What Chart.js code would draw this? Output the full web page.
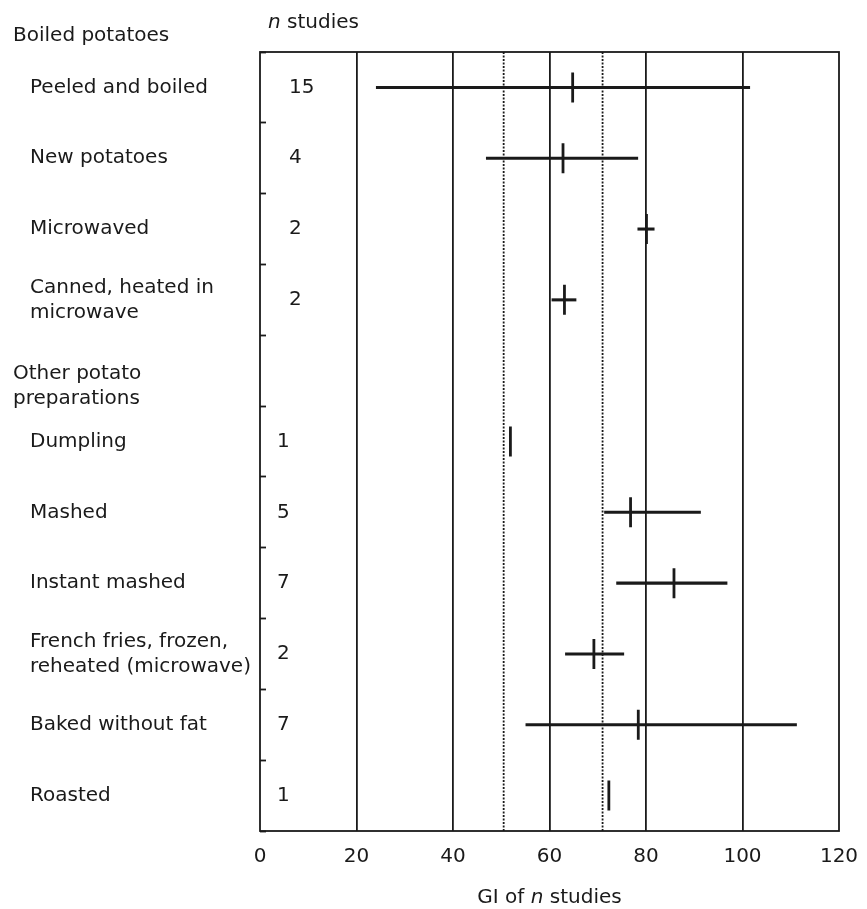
<!DOCTYPE html>
<html>
<head>
<meta charset="utf-8">
<script src="https://cdn.jsdelivr.net/npm/chart.js@4.4.1/dist/chart.umd.min.js"></script>
<style>
html, body { margin: 0; padding: 0; background: #fff; }
#wrap { width: 867px; height: 909px; }
</style>
</head>
<body>
<div id="wrap"><canvas id="grafica" width="867" height="909"></canvas></div>
<script>
// filas del grafico (de arriba hacia abajo)
const categorias = [
    'Peeled and boiled',
    'New potatoes',
    'Microwaved',
    ['Canned, heated in', 'microwave'],
    ['Other potato', 'preparations'],
    'Dumpling',
    'Mashed',
    'Instant mashed',
    ['French fries, frozen,', 'reheated (microwave)'],
    'Baked without fat',
    'Roasted'
];
const tipo_fila = ['item', 'item', 'item', 'item', 'cabecera', 'item', 'item', 'item', 'item', 'item', 'item'];
const grupo_fila = [0, 0, 0, 0, 1, 1, 1, 1, 1, 1, 1];
const cabecera_superior = 'Boiled potatoes';

const n_estudios = [15, 4, 2, 2, null, 1, 5, 7, 2, 7, 1];
const gi_media = [64.8, 62.8, 80.1, 63.1, null, 51.9, 76.8, 85.8, 69.2, 78.4, 72.3];
const gi_min = [24.1, 46.9, 78.3, 60.5, null, null, 71.4, 73.9, 63.3, 55.1, null];
const gi_max = [101.5, 78.3, 81.7, 65.5, null, null, 91.3, 96.8, 75.4, 111.2, null];

// lineas punteadas de referencia
const lineas_punteadas = [50.5, 71];

const FONT = '"DejaVu Sans", sans-serif';
const INK = '#1a1a1a';

const rangos = gi_min.map((v, i) => (v == null ? null : [v, gi_max[i]]));

function textoMixto(ctx, partes, x, y, align) {
    let total = 0;
    partes.forEach(p => {
        ctx.font = (p[1] ? 'italic ' : '') + '20px ' + FONT;
        total += ctx.measureText(p[0]).width;
    });
    let cx = align === 'center' ? x - total / 2 : x;
    ctx.textAlign = 'left';
    partes.forEach(p => {
        ctx.font = (p[1] ? 'italic ' : '') + '20px ' + FONT;
        ctx.fillText(p[0], cx, y);
        cx += ctx.measureText(p[0]).width;
    });
}

const textos = {
    id: 'textos',
    beforeDatasetsDraw(chart) {
        const {ctx, chartArea: a, scales: {x}} = chart;
        ctx.save();
        ctx.strokeStyle = INK;
        ctx.lineWidth = 1.8;
        ctx.setLineDash([2, 1.5]);
        lineas_punteadas.forEach(v => {
            const px = x.getPixelForValue(v);
            ctx.beginPath();
            ctx.moveTo(px, a.top);
            ctx.lineTo(px, a.bottom);
            ctx.stroke();
        });
        ctx.restore();
    },
    afterDraw(chart) {
        const {ctx, chartArea: a, scales: {x, y}} = chart;
        ctx.save();
        ctx.strokeStyle = INK;
        ctx.lineWidth = 1.8;
        ctx.strokeRect(a.left, a.top, a.right - a.left, a.bottom - a.top);

        ctx.fillStyle = INK;
        ctx.textBaseline = 'middle';
        ctx.font = '20px ' + FONT;
        ctx.textAlign = 'left';
        ctx.fillText(cabecera_superior, 13, a.top - 16);

        categorias.forEach((lab, i) => {
            const cy = y.getPixelForValue(i);
            const lineas = Array.isArray(lab) ? lab : [lab];
            const cabecera = tipo_fila[i] === 'cabecera';
            const lx = cabecera ? 13 : 30;
            const y0 = cy + (cabecera ? 16 : 0) - (lineas.length - 1) * 12.5;
            ctx.font = '20px ' + FONT;
            lineas.forEach((t, k) => ctx.fillText(t, lx, y0 + k * 25));
            if (n_estudios[i] != null) {
                const nx = a.left + (grupo_fila[i] === 0 ? 29 : 17);
                ctx.fillText(String(n_estudios[i]), nx, cy);
            }
        });

        textoMixto(ctx, [['n', true], [' studies', false]], a.left + 8, 23, 'left');
        textoMixto(ctx, [['GI of ', false], ['n', true], [' studies', false]], (x.left + x.right) / 2, 898, 'center');
        ctx.restore();
    }
};

const ctx = document.getElementById('grafica').getContext('2d');

let grafica = new Chart(ctx, {
    type: 'bar',
    data: {
        labels: categorias,
        datasets: [{
            label: 'Rango',
            data: rangos,
            backgroundColor: INK,
            borderWidth: 0,
            barThickness: 2.4,
            order: 2
        }, {
            type: 'line',
            label: 'GI medio',
            data: gi_media,
            showLine: false,
            pointStyle: 'line',
            rotation: 90,
            radius: 15,
            borderColor: INK,
            backgroundColor: INK,
            borderWidth: 2.8,
            order: 1
        }]
    },
    options: {
        indexAxis: 'y',
        responsive: false,
        animation: false,
        events: [],
        layout: { padding: { top: 52, right: 28, left: 0, bottom: 0 } },
        plugins: {
            legend: { display: false },
            tooltip: { enabled: false }
        },
        scales: {
            x: {
                type: 'linear',
                min: 0,
                max: 120,
                ticks: {
                    stepSize: 20,
                    padding: 14,
                    maxRotation: 0,
                    color: INK,
                    font: { family: FONT, size: 20 }
                },
                grid: {
                    drawTicks: false,
                    lineWidth: 1.8,
                    color: c => (c.tick && (c.tick.value === 0 || c.tick.value === 120)) ? 'rgba(0,0,0,0)' : INK
                },
                border: { display: false },
                afterFit(s) {
                    s.height = 78;
                    s.paddingRight = 0;
                    s.paddingLeft = 0;
                }
            },
            y: {
                type: 'category',
                offset: true,
                ticks: { display: false },
                grid: {
                    offset: true,
                    drawOnChartArea: false,
                    drawTicks: true,
                    tickLength: -6,
                    tickWidth: 1.8,
                    tickColor: INK
                },
                border: { display: false },
                afterFit(s) { s.width = 260; }
            }
        }
    },
    plugins: [textos]
});
</script>
</body>
</html>
